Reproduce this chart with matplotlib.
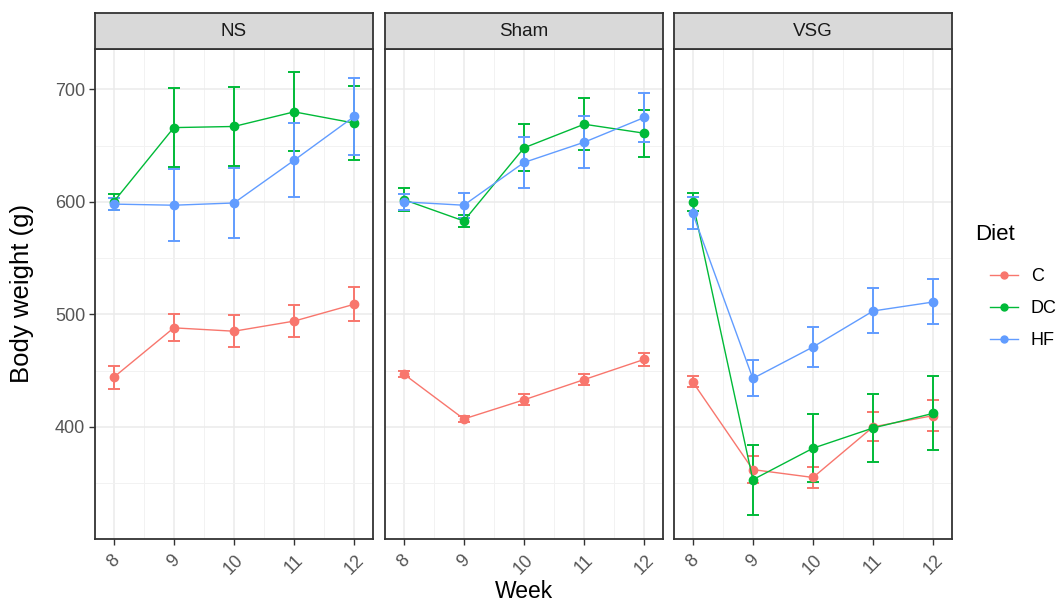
import numpy as np
import matplotlib
matplotlib.use("Agg")
import matplotlib.pyplot as plt
from matplotlib.lines import Line2D

plt.rcParams['font.family'] = ['Liberation Sans', 'DejaVu Sans']

# dados: peso corporal médio (g) e erro padrão por semana
weeks = [8, 9, 10, 11, 12]
surgeries = ["NS", "Sham", "VSG"]
diets = ["C", "DC", "HF"]
diet_colors = {"C": "#F8766D", "DC": "#00BA38", "HF": "#619CFF"}

ns_mean = {"C": [444, 488, 485, 494, 509],
           "DC": [600, 666, 667, 680, 670],
           "HF": [598, 597, 599, 637, 676]}
ns_se = {"C": [10, 12, 14, 14, 15],
         "DC": [7, 35, 35, 35, 33],
         "HF": [5, 32, 31, 33, 34]}

sham_mean = {"C": [447, 407, 424, 442, 460],
             "DC": [602, 583, 648, 669, 661],
             "HF": [600, 597, 635, 653, 675]}
sham_se = {"C": [3, 3, 5, 5, 6],
           "DC": [10, 5, 21, 23, 21],
           "HF": [7, 11, 23, 23, 22]}

vsg_mean = {"C": [440, 362, 355, 400, 410],
            "DC": [600, 353, 381, 399, 412],
            "HF": [590, 443, 471, 503, 511]}
vsg_se = {"C": [5, 12, 9, 13, 14],
          "DC": [8, 31, 30, 30, 33],
          "HF": [14, 16, 18, 20, 20]}

medias = [ns_mean, sham_mean, vsg_mean]
erros = [ns_se, sham_se, vsg_se]

W, H = 1064, 605
fig = plt.figure(figsize=(W / 100, H / 100), dpi=100)

borda = "#333333"
lefts = [95, 385, 674]
larg = 278
topo, base = 49.3, 539
strip_topo = 12.7

for i, nome in enumerate(surgeries):
    ax = fig.add_axes([lefts[i] / W, (H - base) / H, larg / W, (base - topo) / H])
    ax.set_xlim(7.69, 12.31)
    ax.set_ylim(300.3, 735.6)

    # grade (principal e secundária)
    ax.set_xticks(weeks)
    ax.set_xticks([8.5, 9.5, 10.5, 11.5], minor=True)
    ax.set_yticks([400, 500, 600, 700])
    ax.set_yticks([350, 450, 550, 650], minor=True)
    ax.grid(True, which="major", color="#EBEBEB", lw=1.1)
    ax.grid(True, which="minor", color="#F2F2F2", lw=0.7)
    ax.set_axisbelow(True)
    ax.tick_params(which="minor", length=0)
    ax.tick_params(which="major", length=4, width=1, color=borda,
                   labelcolor="#555555", labelsize=13, pad=3)
    ax.tick_params(axis="x", pad=5)
    for s in ax.spines.values():
        s.set_color(borda)
        s.set_linewidth(1.3)

    ax.set_xticklabels([str(w) for w in weeks], rotation=45, ha="center", va="top")
    if i > 0:
        ax.tick_params(axis="y", length=0, labelleft=False)

    for d in diets:
        c = diet_colors[d]
        ax.errorbar(weeks, medias[i][d], yerr=erros[i][d], color=c,
                    lw=1.0, elinewidth=1.4, capsize=4.3, capthick=1.4,
                    marker="o", markersize=6, zorder=3)

    # faixa com o nome do grupo
    st = fig.add_axes([lefts[i] / W, (H - topo) / H, larg / W, (topo - strip_topo) / H])
    st.set_facecolor("#D9D9D9")
    st.set_xticks([])
    st.set_yticks([])
    for s in st.spines.values():
        s.set_color(borda)
        s.set_linewidth(1.3)
    st.text(0.5, 0.5, nome, ha="center", va="center", fontsize=13.5,
            color="#1A1A1A", transform=st.transAxes)

fig.text(22 / W, 1 - 293 / H, "Body weight (g)", rotation=90, ha="center",
         va="center", fontsize=18.5, color="black")
fig.text(524 / W, 1 - 592 / H, "Week", ha="center", va="center",
         fontsize=16.5, color="black")

# legenda
fig.text(975 / W, 1 - 235 / H, "Diet", ha="left", va="center",
         fontsize=16, color="black")
handles = [Line2D([], [], color=diet_colors[d], marker="o", markersize=5, lw=1.0)
           for d in diets]
fig.legend(handles, diets, loc="upper left",
           bbox_to_anchor=(974 / W, 1 - 252 / H), frameon=False,
           fontsize=13, handlelength=1.55, handletextpad=0.7,
           labelspacing=0.82)

fig.savefig("out.png", dpi=100)
